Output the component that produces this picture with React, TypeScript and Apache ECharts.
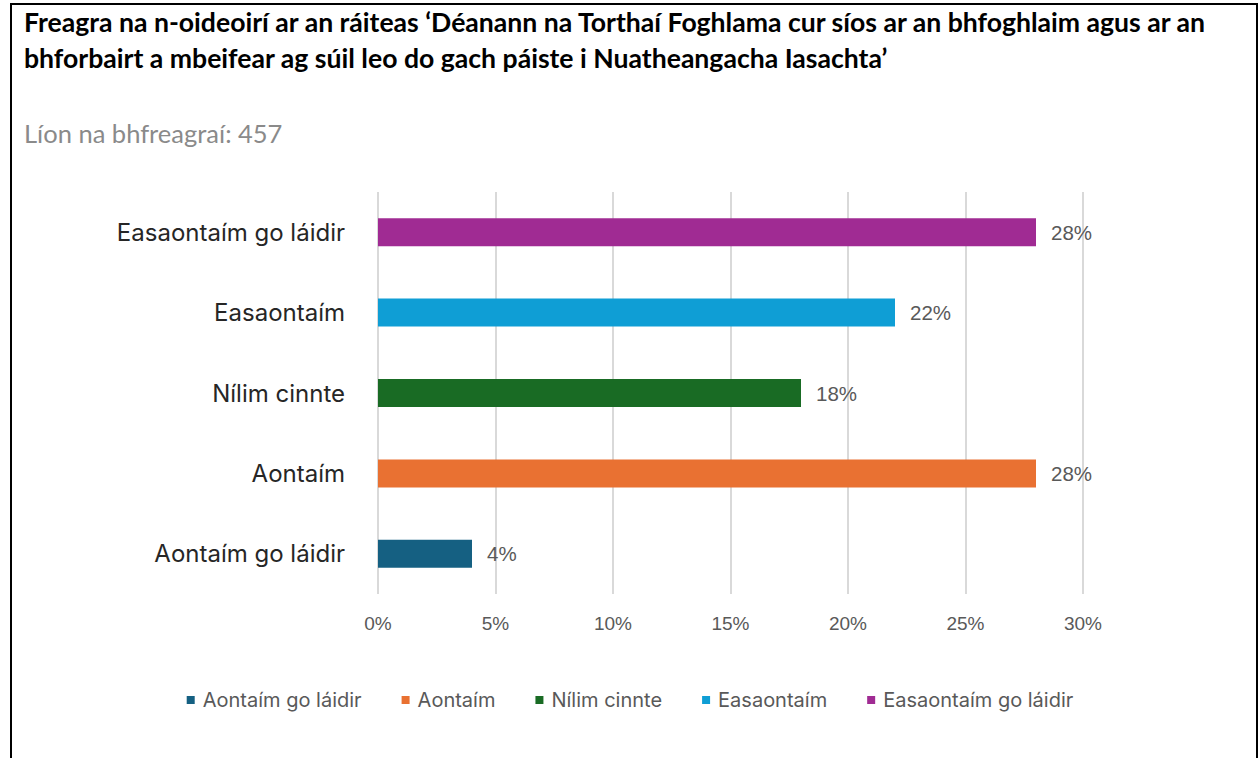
import React, { useEffect, useRef } from "react";
import * as echarts from "echarts";

const titleLines = [
  "Freagra na n-oideoirí ar an ráiteas ‘Déanann na Torthaí Foghlama cur síos ar an bhfoghlaim agus ar an",
  "bhforbairt a mbeifear ag súil leo do gach páiste i Nuatheangacha Iasachta’",
];
const subtitle = "Líon na bhfreagraí: 457";
const categories = ["Aontaím go láidir", "Aontaím", "Nílim cinnte", "Easaontaím", "Easaontaím go láidir"];
const values = [4, 28, 18, 22, 28];
const colors = ["#156082", "#E97132", "#196B24", "#0F9ED5", "#A02B93"];
const xMin = 0;
const xMax = 30;
const xInterval = 5;

export default function App() {
  const ref = useRef<HTMLDivElement>(null);
  useEffect(() => {
    if (!ref.current) return;
    const chart = echarts.init(ref.current, null, { renderer: "svg" });
    const series = categories.map((name, i) => ({
      name,
      type: "bar",
      stack: "all",
      barWidth: 28,
      itemStyle: { color: colors[i] },
      data: categories.map((_, j) => (j === i ? values[i] : "-")),
      label: {
        show: true,
        position: "right",
        distance: 15,
        formatter: "{c}%",
        color: "#595959",
        fontSize: 20.5,
        fontFamily: "Liberation Sans, Arial, sans-serif",
      },
    }));
    chart.setOption({
      animation: false,
      title: [
        {
          text: titleLines.join("\n"),
          left: 24,
          top: 4,
          padding: 0,
          textStyle: {
            fontFamily: "Lato",
            fontWeight: "bold",
            fontSize: 26.6,
            lineHeight: 36,
            color: "#000000",
          },
        },
        {
          text: subtitle,
          left: 24,
          top: 118,
          padding: 0,
          textStyle: {
            fontFamily: "Lato",
            fontWeight: "normal",
            fontSize: 25.5,
            lineHeight: 30,
            color: "#8a8a8a",
          },
        },
      ],
      legend: {
        data: categories,
        left: "center",
        top: 685,
        itemWidth: 8,
        itemHeight: 8,
        itemGap: 40,
        icon: "rect",
        textStyle: {
          fontFamily: "Inter",
          fontSize: 20,
          color: "#595959",
          padding: [0, 0, 0, 3],
        },
      },
      grid: { left: 378, right: 177, top: 192, bottom: 164, containLabel: false },
      xAxis: {
        type: "value",
        min: xMin,
        max: xMax,
        interval: xInterval,
        axisLine: { show: false },
        axisTick: { show: false },
        splitLine: { show: true, lineStyle: { color: "#d9d9d9", width: 2 } },
        axisLabel: {
          formatter: "{value}%",
          margin: 20,
          color: "#595959",
          fontSize: 19,
          fontFamily: "Liberation Sans, Arial, sans-serif",
        },
      },
      yAxis: {
        type: "category",
        data: categories,
        axisLine: { show: false },
        axisTick: { show: false },
        axisLabel: {
          margin: 33,
          color: "#262626",
          fontSize: 24,
          fontFamily: "Inter",
        },
      },
      series,
    });
    return () => chart.dispose();
  }, []);
  return (
    <div style={{ position: "fixed", left: 0, top: 0, width: 1260, height: 758, overflow: "hidden", background: "#fff" }}>
      <div
        style={{
          position: "absolute",
          left: 10,
          top: 3,
          width: 1248,
          height: 760,
          boxSizing: "border-box",
          borderTop: "2px solid #000",
          borderLeft: "2px solid #000",
          borderRight: "2px solid #000",
        }}
      />
      <div ref={ref} style={{ position: "absolute", left: 0, top: 0, width: 1260, height: 758 }} />
    </div>
  );
}
